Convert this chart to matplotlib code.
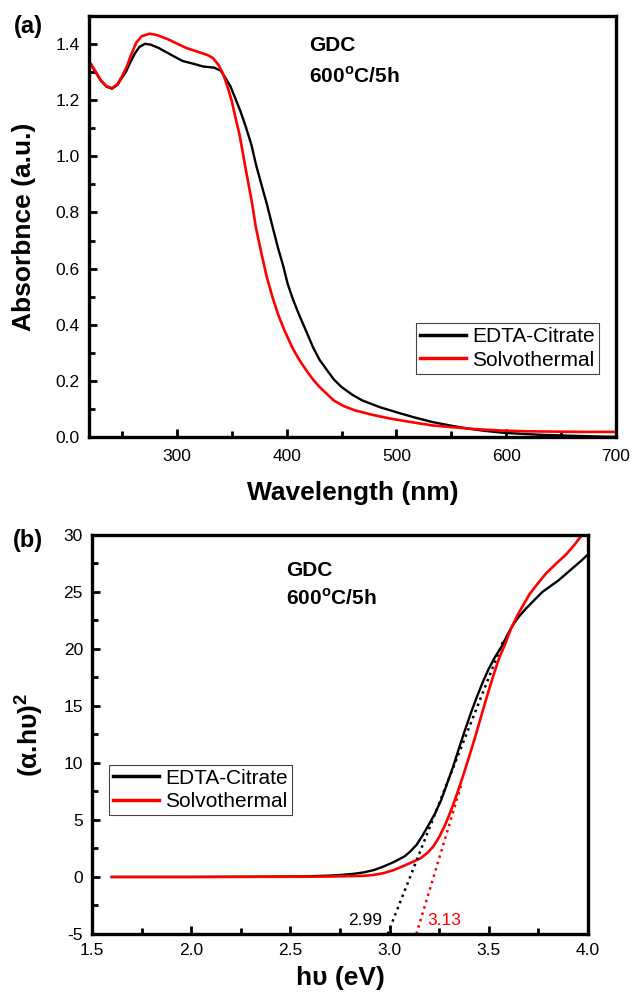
import numpy as np
import matplotlib
matplotlib.use("Agg")
import matplotlib.pyplot as plt
from matplotlib.ticker import MultipleLocator, FormatStrFormatter

plt.rcParams['font.family'] = ['Liberation Sans', 'DejaVu Sans']
plt.rcParams['mathtext.fontset'] = 'custom'
plt.rcParams['mathtext.rm'] = 'Liberation Sans'
plt.rcParams['mathtext.bf'] = 'Liberation Sans:bold'
plt.rcParams['axes.unicode_minus'] = False

""" 1. Data read off the picture """

# (a) absorbance spectra
wl_edta = [222, 226, 231, 236, 241, 246, 250, 254, 258, 262, 266, 271, 276, 283,
           290, 297, 305, 315, 324, 334, 340, 344, 349, 353, 358, 363, 368, 372,
           377, 382, 387, 392, 397, 401, 406, 411, 418, 424, 430, 437, 443, 450,
           460, 469, 485, 501, 517, 533, 550, 565, 580, 597, 615, 630, 645, 662,
           680, 700]
abs_edta = [1.325, 1.300, 1.268, 1.248, 1.241, 1.255, 1.280, 1.304, 1.338, 1.368,
            1.390, 1.401, 1.398, 1.387, 1.372, 1.357, 1.340, 1.330, 1.320, 1.316,
            1.305, 1.281, 1.248, 1.209, 1.160, 1.103, 1.040, 0.972, 0.900, 0.830,
            0.752, 0.676, 0.608, 0.545, 0.488, 0.439, 0.375, 0.320, 0.275, 0.237,
            0.205, 0.178, 0.150, 0.130, 0.106, 0.087, 0.069, 0.053, 0.040, 0.030,
            0.022, 0.015, 0.011, 0.008, 0.006, 0.004, 0.002, 0.0]
wl_solvo = [222, 226, 231, 236, 241, 246, 250, 254, 258, 263, 268, 275, 282, 292,
            300, 308, 318, 328, 333, 338, 342, 346, 350, 353, 357, 360, 363, 368,
            372, 377, 382, 387, 392, 398, 405, 411, 418, 424, 430, 437, 443, 452,
            462, 478, 495, 515, 533, 550, 565, 580, 597, 620, 646, 670, 700]
abs_solvo = [1.328, 1.302, 1.270, 1.250, 1.243, 1.258, 1.285, 1.316, 1.358, 1.405,
             1.428, 1.437, 1.432, 1.417, 1.402, 1.387, 1.374, 1.361, 1.350, 1.325,
             1.295, 1.250, 1.198, 1.145, 1.079, 1.015, 0.949, 0.845, 0.747, 0.655,
             0.569, 0.500, 0.439, 0.380, 0.320, 0.278, 0.237, 0.205, 0.178, 0.152,
             0.130, 0.110, 0.095, 0.079, 0.065, 0.052, 0.041, 0.035, 0.030, 0.026,
             0.0225, 0.020, 0.019, 0.018, 0.018]

# (b) Tauc plot
hv_edta = [1.60, 2.00, 2.30, 2.57, 2.70, 2.77, 2.82, 2.87, 2.92, 2.97, 3.02, 3.075,
           3.105, 3.136, 3.165, 3.197, 3.23, 3.26, 3.29, 3.32, 3.35, 3.38, 3.41,
           3.44, 3.47, 3.50, 3.53, 3.563, 3.59, 3.62, 3.65, 3.685, 3.73, 3.77,
           3.81, 3.85, 3.89, 3.93, 3.97, 4.0]
tauc_edta = [0.0, 0.0, 0.02, 0.05, 0.12, 0.2, 0.28, 0.4, 0.6, 0.92, 1.3, 1.8,
             2.25, 2.82, 3.6, 4.57, 5.6, 6.75, 8.2, 9.67, 11.3, 12.88, 14.4,
             15.8, 17.1, 18.27, 19.25, 20.17, 21.1, 22.07, 22.8, 23.5, 24.3, 25.0,
             25.5, 26.0, 26.6, 27.2, 27.8, 28.3]
hv_solvo = [1.60, 2.00, 2.30, 2.57, 2.70, 2.77, 2.82, 2.87, 2.92, 2.97, 3.02, 3.075,
            3.12, 3.157, 3.19, 3.22, 3.25, 3.28, 3.31, 3.34, 3.37, 3.40, 3.43,
            3.46, 3.49, 3.52, 3.55, 3.583, 3.61, 3.644, 3.675, 3.705, 3.745,
            3.787, 3.84, 3.89, 3.93, 3.97]
tauc_solvo = [0.0, 0.0, 0.01, 0.02, 0.04, 0.06, 0.08, 0.1, 0.18, 0.34, 0.6, 1.0,
              1.35, 1.65, 2.1, 2.67, 3.5, 4.57, 5.85, 7.3, 8.85, 10.5, 12.2,
              14.0, 15.8, 17.5, 19.1, 20.46, 21.7, 22.94, 23.9, 24.8, 25.7,
              26.6, 27.5, 28.3, 29.1, 30.0]

# linear fits (dotted)
fit_edta_x = [2.99, 3.575]
fit_edta_y = [-5, 20.8]
fit_solvo_x = [3.135, 3.36]
fit_solvo_y = [-5, 8.0]
gap_edta = 2.99
gap_solvo = 3.13

labels = ['EDTA-Citrate', 'Solvothermal']
colors = ['black', '#ff0000']


def style_axes(ax, xpad):
    for s in ax.spines.values():
        s.set_linewidth(2.4)
    ax.tick_params(which='both', direction='in', top=False, right=False,
                   labelsize=12.5)
    ax.tick_params(which='major', length=6, width=2)
    ax.tick_params(which='minor', length=4, width=2)
    ax.tick_params(axis='y', pad=6.5)
    ax.tick_params(axis='x', pad=xpad)


""" 2. The figure """

fig = plt.figure(figsize=(6.33, 9.94), dpi=100)

# (a)
ax1 = fig.add_axes([0.1406, 0.5604, 0.8325, 0.4235])
ax1.plot(wl_edta, abs_edta, color=colors[0], lw=1.7, label=labels[0])
ax1.plot(wl_solvo, abs_solvo, color=colors[1], lw=1.9, label=labels[1])
ax1.set_xlim(220, 700)
ax1.set_ylim(0, 1.5)
ax1.xaxis.set_minor_locator(MultipleLocator(50))
ax1.yaxis.set_minor_locator(MultipleLocator(0.1))
ax1.set_yticks([0, 0.2, 0.4, 0.6, 0.8, 1.0, 1.2, 1.4])
ax1.yaxis.set_major_formatter(FormatStrFormatter('%.1f'))
ax1.set_xticks([300, 400, 500, 600, 700])
style_axes(ax1, 9)
ax1.set_xlabel('Wavelength (nm)', fontsize=19, fontweight='bold')
ax1.set_ylabel('Absorbnce (a.u.)', fontsize=19, fontweight='bold')
ax1.xaxis.set_label_coords(0.5, -0.105)
ax1.yaxis.set_label_coords(-0.10, 0.5)
ax1.text(0.417, 0.929, 'GDC', transform=ax1.transAxes, fontsize=15,
         fontweight='bold', va='center', ha='left')
ax1.text(0.417, 0.857, r'600$^{\mathbf{o}}$C/5h', transform=ax1.transAxes,
         fontsize=15, fontweight='bold', va='center', ha='left')
leg1 = ax1.legend(loc='lower right', bbox_to_anchor=(0.968, 0.15), fontsize=15,
                  fancybox=False, framealpha=1, edgecolor='#444444',
                  handlelength=2.2, handletextpad=0.3, borderpad=0.2,
                  labelspacing=0.2, borderaxespad=0)
leg1.get_frame().set_linewidth(0.8)
for ln in leg1.get_lines():
    ln.set_linewidth(2.5)

# (b)
ax2 = fig.add_axes([0.1453, 0.0604, 0.7836, 0.4014])
ax2.plot(hv_edta, tauc_edta, color=colors[0], lw=1.7, label=labels[0])
ax2.plot(hv_solvo, tauc_solvo, color=colors[1], lw=1.9, label=labels[1])
ax2.plot(fit_edta_x, fit_edta_y, color=colors[0], lw=1.8, ls=':')
ax2.plot(fit_solvo_x, fit_solvo_y, color=colors[1], lw=1.8, ls=':')
ax2.set_xlim(1.5, 4.0)
ax2.set_ylim(-5, 30)
ax2.xaxis.set_major_locator(MultipleLocator(0.5))
ax2.xaxis.set_minor_locator(MultipleLocator(0.25))
ax2.yaxis.set_major_locator(MultipleLocator(5))
ax2.yaxis.set_minor_locator(MultipleLocator(2.5))
ax2.xaxis.set_major_formatter(FormatStrFormatter('%.1f'))
style_axes(ax2, 6.5)
ax2.set_xlabel('h\u03c5 (eV)', fontsize=19, fontweight='bold')
ax2.set_ylabel('(\u03b1.h\u03c5)$^{\\mathbf{2}}$', fontsize=19, fontweight='bold')
ax2.xaxis.set_label_coords(0.5, -0.08)
ax2.yaxis.set_label_coords(-0.095, 0.5)
ax2.text(gap_edta - 0.03, -3.8, '%.2f' % gap_edta, color=colors[0], fontsize=12.5,
         ha='right', va='center')
ax2.text(gap_solvo + 0.06, -3.8, '%.2f' % gap_solvo, color=colors[1], fontsize=12.5,
         ha='left', va='center')
ax2.text(0.391, 0.912, 'GDC', transform=ax2.transAxes, fontsize=15,
         fontweight='bold', va='center', ha='left')
ax2.text(0.391, 0.840, r'600$^{\mathbf{o}}$C/5h', transform=ax2.transAxes,
         fontsize=15, fontweight='bold', va='center', ha='left')
leg2 = ax2.legend(loc='lower left', bbox_to_anchor=(0.034, 0.298), fontsize=15,
                  fancybox=False, framealpha=1, edgecolor='#444444',
                  handlelength=2.2, handletextpad=0.3, borderpad=0.2,
                  labelspacing=0.2, borderaxespad=0)
leg2.get_frame().set_linewidth(0.8)
for ln in leg2.get_lines():
    ln.set_linewidth(2.5)

# panel labels
fig.text(28 / 633, 1 - 27 / 994, '(a)', fontsize=17, fontweight='bold',
         ha='center', va='center')
fig.text(28 / 633, 1 - 540 / 994, '(b)', fontsize=17, fontweight='bold',
         ha='center', va='center')

fig.savefig('out.png', dpi=100)
